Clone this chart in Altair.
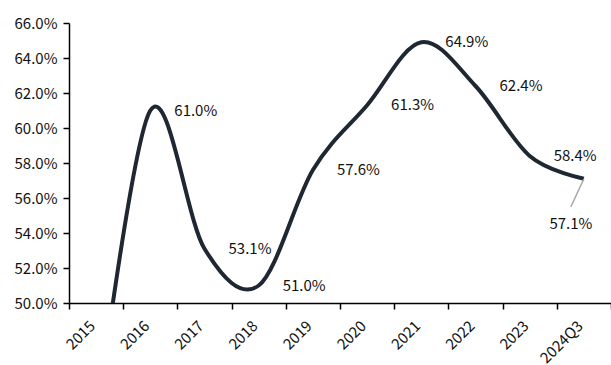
import altair as alt
import pandas as pd

# Share of total, by year (latest period is Q3 2024)
periods = ["2015", "2016", "2017", "2018", "2019", "2020", "2021", "2022", "2023", "2024Q3"]
ratio = [0.430, 0.610, 0.531, 0.510, 0.576, 0.613, 0.649, 0.624, 0.584, 0.571]
y_ticks = [0.50, 0.52, 0.54, 0.56, 0.58, 0.60, 0.62, 0.64, 0.66]

FONT = "Noto Sans CJK SC"
LINE_COLOR = "#1f2733"

df = pd.DataFrame({"period": periods, "ratio": ratio})
last_period = periods[-1]

x_scale = alt.Scale(type="band", domain=periods, paddingInner=0, paddingOuter=0)
y_scale = alt.Scale(domain=[0.50, 0.66], nice=False, zero=False)

x_axis = alt.Axis(
    title=None,
    labelAngle=-45,
    labelAlign="right",
    labelBaseline="middle",
    labelOffset=-4,
    tickBand="extent",
    labelFont=FONT,
    labelFontSize=15,
    labelColor="#111111",
    labelPadding=14,
    labelOverlap=False,
    tickSize=6,
    tickColor="#000000",
    tickWidth=1.5,
    domainColor="#000000",
    domainWidth=1.5,
    grid=False,
)
y_axis = alt.Axis(
    title=None,
    values=y_ticks,
    format=".1%",
    labelFont=FONT,
    labelFontSize=15,
    labelColor="#111111",
    labelPadding=6,
    labelOverlap=False,
    labelFlush=False,
    labelBound=False,
    tickSize=6,
    tickColor="#000000",
    tickWidth=1.5,
    domainColor="#000000",
    domainWidth=1.5,
    grid=False,
)

x_enc = alt.X("period:N", sort=periods, bandPosition=0.5, scale=x_scale, axis=x_axis)
y_enc = alt.Y("ratio:Q", scale=y_scale, axis=y_axis)

base = alt.Chart(df)

line = base.mark_line(
    interpolate="cardinal", color=LINE_COLOR, strokeWidth=4, clip=True
).encode(x=x_enc, y=y_enc)

labels = base.transform_filter(
    (alt.datum.ratio >= 0.5) & (alt.datum.period != last_period)
).mark_text(
    align="left", baseline="middle", dx=24, font=FONT, fontSize=15, color="#111111"
).encode(
    x=x_enc,
    y=y_enc,
    text=alt.Text("ratio:Q", format=".1%"),
)

last_label = base.transform_filter(alt.datum.period == last_period).mark_text(
    align="center", baseline="middle", dx=-13, dy=45, font=FONT, fontSize=15, color="#111111"
).encode(
    x=x_enc,
    y=y_enc,
    text=alt.Text("ratio:Q", format=".1%"),
)

leader = base.transform_filter(alt.datum.period == last_period).mark_rule(
    color="#a6a6a6", strokeWidth=1.5, x2Offset=-13, y2Offset=28
).encode(
    x=x_enc,
    x2=alt.X2("period:N", bandPosition=0.5),
    y=y_enc,
    y2="ratio:Q",
)

chart = (
    alt.layer(line, leader, labels, last_label)
    .properties(
        width=542,
        height=280,
        autosize=alt.AutoSizeParams(type="none"),
        padding={"left": 69, "top": 23, "right": 0, "bottom": 62},
        background="#ffffff",
    )
    .configure_view(stroke=None)
    .configure_axisY(labelOverlap=False)
)

chart.save("out.html", embed_options={"renderer": "svg", "actions": False})
